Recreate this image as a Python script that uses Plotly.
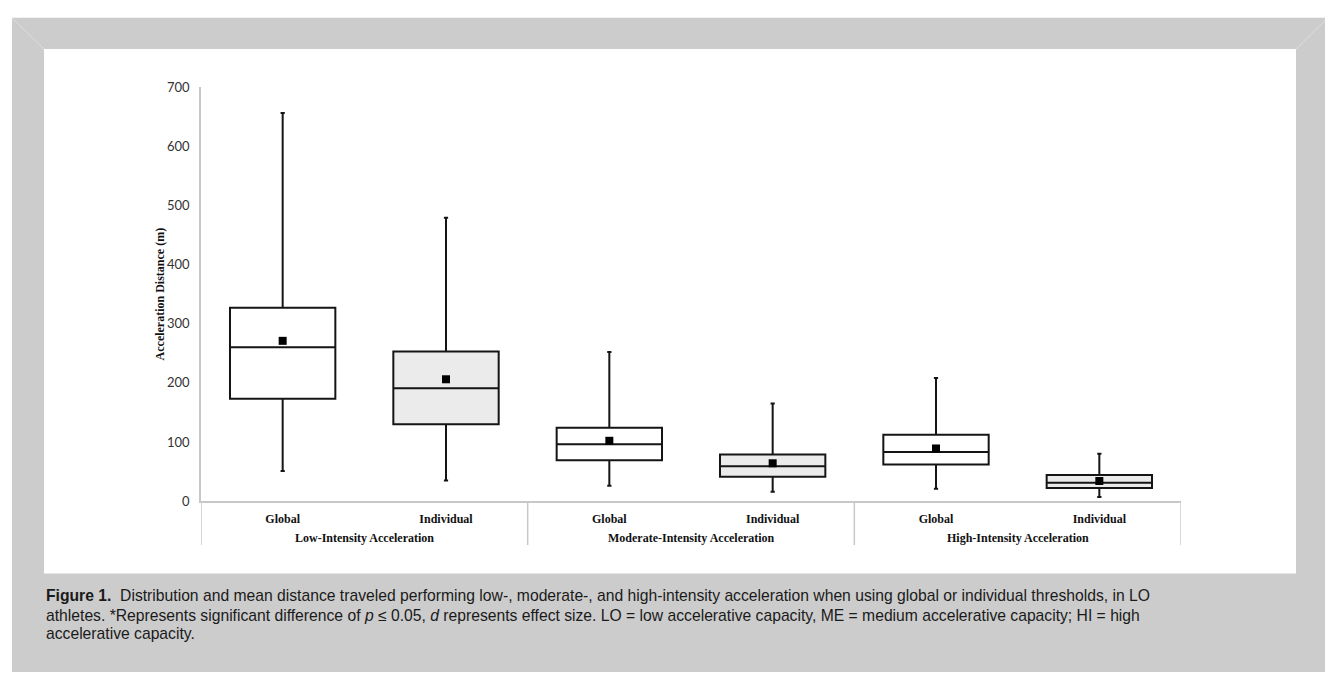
import plotly.graph_objects as go

# ---- data ----
group_names = ["Low-Intensity Acceleration", "Moderate-Intensity Acceleration", "High-Intensity Acceleration"]
thresholds = ["Global", "Individual", "Global", "Individual", "Global", "Individual"]
upper_whisker = [656, 479, 252, 165, 208, 80]
q3_values = [327, 253, 124, 79, 112, 44]
median_values = [260, 191, 96, 59, 83, 31]
q1_values = [173, 130, 69, 41, 62, 22]
lower_whisker = [51, 35, 26, 16, 21, 7]
mean_values = [271, 206, 102, 64, 89, 34]
y_ticks = [0, 100, 200, 300, 400, 500, 600, 700]

caption_lines = [
    "<b>Figure 1.</b>  Distribution and mean distance traveled performing low-, moderate-, and high-intensity acceleration when using global or individual thresholds, in LO",
    "athletes. *Represents significant difference of <i>p</i> \u2264 0.05, <i>d</i> represents effect size. LO = low accelerative capacity, ME = medium accelerative capacity; HI = high",
    "accelerative capacity.",
]

W, H = 1325, 680


def px(x):
    return x / W


def py(y):
    return 1 - y / H


positions = list(range(len(thresholds)))
fig = go.Figure()

fills = {"Global": "#ffffff", "Individual": "#ebebeb"}
for kind in ["Global", "Individual"]:
    idx = [i for i, t in enumerate(thresholds) if t == kind]
    fig.add_trace(go.Box(
        x=[positions[i] for i in idx],
        q1=[q1_values[i] for i in idx],
        median=[median_values[i] for i in idx],
        q3=[q3_values[i] for i in idx],
        lowerfence=[lower_whisker[i] for i in idx],
        upperfence=[upper_whisker[i] for i in idx],
        fillcolor=fills[kind],
        line=dict(color="#151515", width=2),
        width=0.645,
        whiskerwidth=0.04,
        boxpoints=False,
        hoverinfo="skip",
        showlegend=False,
        name=kind,
    ))

fig.add_trace(go.Scatter(
    x=positions,
    y=mean_values,
    mode="markers",
    marker=dict(symbol="square", size=8, color="#000000"),
    showlegend=False,
    hoverinfo="skip",
))

serif = "Liberation Serif, Times New Roman, serif"
shapes = [
    dict(type="rect", xref="paper", yref="paper", x0=px(12), x1=1.0, y0=0, y1=py(10),
         fillcolor="#cccccc", line=dict(width=0), layer="below"),
    dict(type="rect", xref="paper", yref="paper", x0=px(44), x1=px(1296), y0=py(579), y1=py(42),
         fillcolor="#ffffff", line=dict(width=0), layer="below"),
    dict(type="line", xref="paper", yref="paper", x0=px(12), x1=px(44), y0=py(10), y1=py(42),
         line=dict(color="#dedede", width=1), layer="below"),
    dict(type="line", xref="paper", yref="paper", x0=px(1296), x1=1.0, y0=py(42), y1=py(13),
         line=dict(color="#dedede", width=1), layer="below"),
]
# group dividers below the category axis
n_per_group = len(thresholds) // len(group_names)
for g in range(len(group_names) + 1):
    xb = g * n_per_group - 0.5
    shapes.append(dict(type="line", xref="x", yref="paper", x0=xb, x1=xb,
                       y0=py(550), y1=py(505),
                       line=dict(color="#c8c8c8", width=1.5)))

annotations = []
for g, name in enumerate(group_names):
    annotations.append(dict(
        text="<b>" + name + "</b>", xref="x", yref="paper",
        x=g * n_per_group + (n_per_group - 1) / 2, y=py(543),
        xanchor="center", yanchor="middle", showarrow=False,
        font=dict(family=serif, size=12, color="#111111"),
    ))
line_y = [602, 622, 641]
for txt, yy in zip(caption_lines, line_y):
    annotations.append(dict(
        text=txt, xref="paper", yref="paper", x=px(44), y=py(yy),
        xanchor="left", yanchor="middle", showarrow=False, align="left",
        font=dict(family="Liberation Sans, Arial, sans-serif", size=15.7, color="#1a1a1a"),
    ))

fig.update_layout(
    width=W, height=H,
    margin=dict(l=0, r=0, t=0, b=0),
    paper_bgcolor="#ffffff",
    plot_bgcolor="rgba(0,0,0,0)",
    shapes=shapes,
    annotations=annotations,
    showlegend=False,
    boxmode="overlay",
    xaxis=dict(
        domain=[px(201), px(1181)],
        range=[-0.5, len(thresholds) - 0.5],
        tickvals=positions,
        ticktext=["<b>" + t + "</b>" for t in thresholds],
        showline=True, linecolor="#c8c8c8", linewidth=1.5,
        showgrid=False, zeroline=False,
        ticks="", ticklabelstandoff=6,
        tickfont=dict(family=serif, size=12, color="#111111"),
    ),
    yaxis=dict(
        domain=[py(505), py(81)],
        range=[0, 700],
        tickvals=y_ticks,
        showline=True, linecolor="#c8c8c8", linewidth=1.5,
        showgrid=False, zeroline=False,
        ticks="", ticklabelstandoff=7,
        tickfont=dict(family="Lato, sans-serif", size=13, color="#333333"),
        title=dict(text="<b>Acceleration Distance (m)</b>", standoff=0,
                   font=dict(family=serif, size=12, color="#111111")),
    ),
)

fig.write_html(
    "out.html",
    config={"displayModeBar": False},
    post_script="document.body.style.margin='0';document.body.style.overflow='hidden';",
)
